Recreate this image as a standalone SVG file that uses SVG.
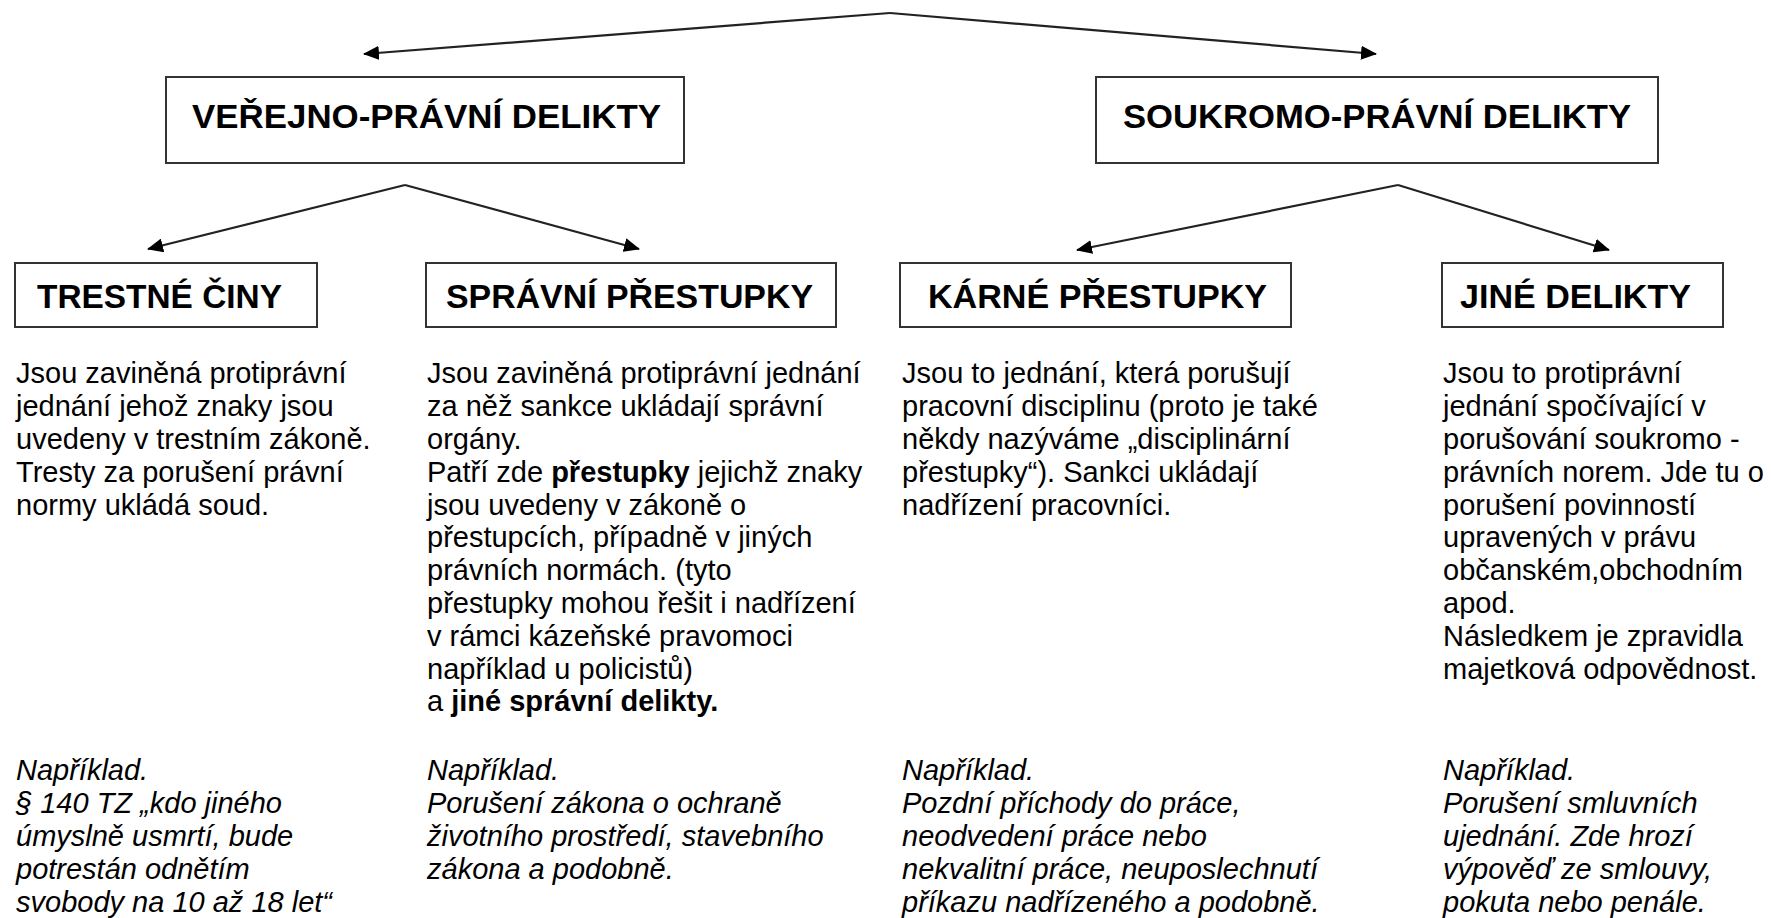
<svg xmlns="http://www.w3.org/2000/svg" width="1771" height="918" viewBox="0 0 1771 918">
<style>
.box{fill:#fff;stroke:#333;stroke-width:2}
.h{font-family:"Liberation Sans",Arial,sans-serif;font-weight:bold;font-size:34px;fill:#000}
.t{font-family:"Liberation Sans",Arial,sans-serif;font-size:29px;fill:#000}
.i{font-style:italic}
.b{font-weight:bold}
.c{fill:none;stroke:#222;stroke-width:2.2}
</style>
<defs>
<marker id="ah" markerUnits="userSpaceOnUse" markerWidth="16" markerHeight="14" viewBox="0 0 16 14" refX="15" refY="7" orient="auto">
<path d="M0,0 L16,7 L0,14 z" fill="#000"/>
</marker>
</defs>
<rect width="1771" height="918" fill="#fff"/>
<g id="connectors">
<path class="c" d="M890,13 L364,54" marker-end="url(#ah)"/>
<path class="c" d="M890,13 L1376,54" marker-end="url(#ah)"/>
<path class="c" d="M405,185 L148,249" marker-end="url(#ah)"/>
<path class="c" d="M405,185 L639,249" marker-end="url(#ah)"/>
<path class="c" d="M1398,185 L1077,250" marker-end="url(#ah)"/>
<path class="c" d="M1398,185 L1609,250" marker-end="url(#ah)"/>
</g>
<g id="verejno">
<rect class="box" x="166" y="77" width="518" height="86"/>
<text class="h" x="192" y="128" textLength="469" lengthAdjust="spacingAndGlyphs">VEŘEJNO-PRÁVNÍ DELIKTY</text>
</g>
<g id="soukromo">
<rect class="box" x="1096" y="77" width="562" height="86"/>
<text class="h" x="1123" y="128" textLength="508" lengthAdjust="spacingAndGlyphs">SOUKROMO-PRÁVNÍ DELIKTY</text>
</g>
<g id="trestne">
<rect class="box" x="15" y="263" width="302" height="64"/>
<text class="h" x="37" y="308" textLength="245" lengthAdjust="spacingAndGlyphs">TRESTNÉ ČINY</text>
<text class="t" x="16">
<tspan x="16" y="383">Jsou zaviněná protiprávní</tspan>
<tspan x="16" y="416">jednání jehož znaky jsou</tspan>
<tspan x="16" y="449">uvedeny v trestním zákoně.</tspan>
<tspan x="16" y="482">Tresty za porušení právní</tspan>
<tspan x="16" y="515">normy ukládá soud.</tspan>
</text>
<text class="t i">
<tspan x="16" y="780">Například.</tspan>
<tspan x="16" y="813">§ 140 TZ „kdo jiného</tspan>
<tspan x="16" y="846">úmyslně usmrtí, bude</tspan>
<tspan x="16" y="879">potrestán odnětím</tspan>
<tspan x="16" y="912">svobody na 10 až 18 let“</tspan>
</text>
</g>
<g id="spravni">
<rect class="box" x="426" y="263" width="410" height="64"/>
<text class="h" x="446" y="308" textLength="367" lengthAdjust="spacingAndGlyphs">SPRÁVNÍ PŘESTUPKY</text>
<text class="t">
<tspan x="427" y="383">Jsou zaviněná protiprávní jednání</tspan>
<tspan x="427" y="416">za něž sankce ukládají správní</tspan>
<tspan x="427" y="449">orgány.</tspan>
<tspan x="427" y="482">Patří zde <tspan class="b">přestupky</tspan> jejichž znaky</tspan>
<tspan x="427" y="515">jsou uvedeny v zákoně o</tspan>
<tspan x="427" y="547">přestupcích, případně v jiných</tspan>
<tspan x="427" y="580">právních normách. (tyto</tspan>
<tspan x="427" y="613">přestupky mohou řešit i nadřízení</tspan>
<tspan x="427" y="646">v rámci kázeňské pravomoci</tspan>
<tspan x="427" y="679">například u policistů)</tspan>
<tspan x="427" y="711">a <tspan class="b">jiné správní delikty.</tspan></tspan>
</text>
<text class="t i">
<tspan x="427" y="780">Například.</tspan>
<tspan x="427" y="813">Porušení zákona o ochraně</tspan>
<tspan x="427" y="846">životního prostředí,  stavebního</tspan>
<tspan x="427" y="879">zákona a podobně.</tspan>
</text>
</g>
<g id="karne">
<rect class="box" x="900" y="263" width="391" height="64"/>
<text class="h" x="928" y="308" textLength="339" lengthAdjust="spacingAndGlyphs">KÁRNÉ PŘESTUPKY</text>
<text class="t">
<tspan x="902" y="383">Jsou to jednání, která porušují</tspan>
<tspan x="902" y="416">pracovní disciplinu (proto je také</tspan>
<tspan x="902" y="449">někdy nazýváme „disciplinární</tspan>
<tspan x="902" y="482">přestupky“). Sankci ukládají</tspan>
<tspan x="902" y="515">nadřízení pracovníci.</tspan>
</text>
<text class="t i">
<tspan x="902" y="780">Například.</tspan>
<tspan x="902" y="813">Pozdní příchody do práce,</tspan>
<tspan x="902" y="846">neodvedení práce nebo</tspan>
<tspan x="902" y="879">nekvalitní práce, neuposlechnutí</tspan>
<tspan x="902" y="912">příkazu nadřízeného a podobně.</tspan>
</text>
</g>
<g id="jine">
<rect class="box" x="1442" y="263" width="281" height="64"/>
<text class="h" x="1460" y="308" textLength="231" lengthAdjust="spacingAndGlyphs">JINÉ DELIKTY</text>
<text class="t">
<tspan x="1443" y="383">Jsou to protiprávní</tspan>
<tspan x="1443" y="416">jednání spočívající v</tspan>
<tspan x="1443" y="449">porušování soukromo -</tspan>
<tspan x="1443" y="482">právních norem. Jde tu o</tspan>
<tspan x="1443" y="515">porušení povinností</tspan>
<tspan x="1443" y="547">upravených v právu</tspan>
<tspan x="1443" y="580">občanském,obchodním</tspan>
<tspan x="1443" y="613">apod.</tspan>
<tspan x="1443" y="646">Následkem je zpravidla</tspan>
<tspan x="1443" y="679">majetková odpovědnost.</tspan>
</text>
<text class="t i">
<tspan x="1443" y="780">Například.</tspan>
<tspan x="1443" y="813">Porušení smluvních</tspan>
<tspan x="1443" y="846">ujednání. Zde hrozí</tspan>
<tspan x="1443" y="879">výpověď ze smlouvy,</tspan>
<tspan x="1443" y="912">pokuta nebo penále.</tspan>
</text>
</g>
</svg>
